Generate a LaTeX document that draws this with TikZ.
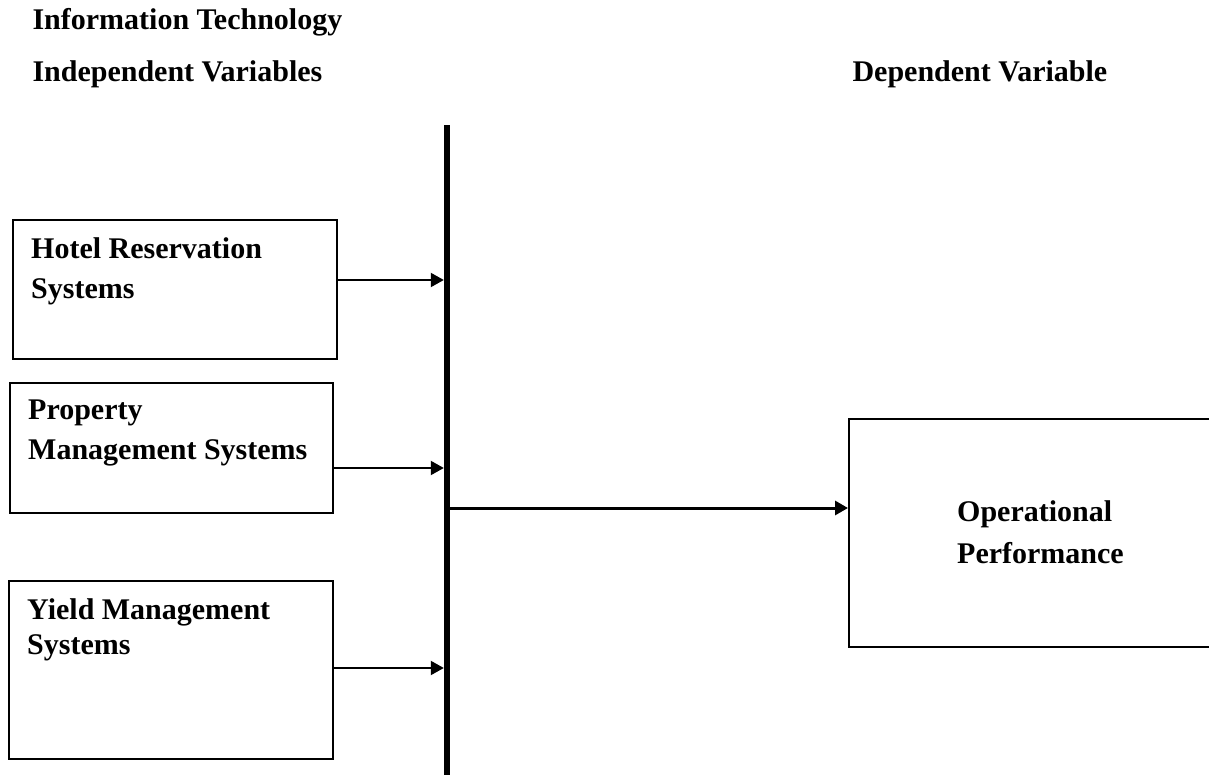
\documentclass[tikz,border=0pt]{standalone}
\usepackage{fontspec}
\setmainfont{Liberation Serif}
\usetikzlibrary{arrows.meta}

\begin{document}
\begin{tikzpicture}[x=1pt, y=-1pt,
  font=\fontsize{30}{40}\selectfont\bfseries,
  box/.style={draw, line width=2pt, anchor=north west, inner sep=0pt},
  txt/.style={anchor=north west, align=left, inner sep=0pt, xshift=19pt, yshift=-18pt},
  arr/.style={-{Triangle[length=13pt,width=14pt]}, line width=2pt}]
\useasboundingbox (0,0) rectangle (1209,775);

\node[anchor=base west] (it) at (29,30) {Information Technology};
\node[anchor=base west] (iv) at (29,82) {Independent Variables};
\node[anchor=base west] (dv) at (849,82) {Dependent Variable};

\node[fill, inner sep=0pt, minimum width=6pt, minimum height=660pt, anchor=north] (bar) at (447,125) {};

\node[box, minimum width=324pt, minimum height=139pt, label={[txt]north west:Hotel Reservation\\Systems}] (hrs) at (12,219) {};
\node[box, minimum width=323pt, minimum height=130pt, label={[txt]north west:Property\\Management Systems}] (pms) at (9,382) {};
\node[box, minimum width=324pt, minimum height=178pt, label={[txt]north west:Yield Management\\[-5pt]Systems}] (yms) at (8,580) {};
\node[box, minimum width=380pt, minimum height=228pt, label={[txt, xshift=90pt, yshift=-64pt]north west:Operational\\[2pt]Performance}] (op) at (848,418) {};

\draw[arr] ([yshift=9.5pt]hrs.east) -- ([yshift=9.5pt]hrs.east -| bar.west);
\draw[arr] ([yshift=-20pt]pms.east) -- ([yshift=-20pt]pms.east -| bar.west);
\draw[arr] ([yshift=2pt]yms.east) -- ([yshift=2pt]yms.east -| bar.west);
\coordinate (hub) at (450,508);
\draw[arr, line width=3pt] (hub) -- (hub -| op.west);
\end{tikzpicture}
\end{document}
